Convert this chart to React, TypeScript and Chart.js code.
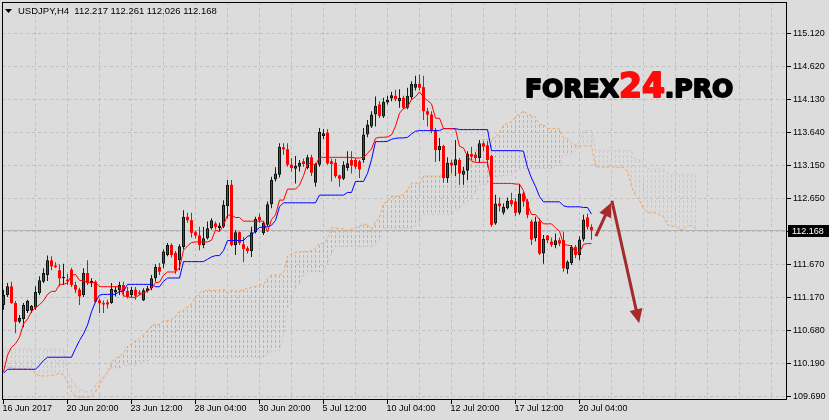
import React, { useEffect, useRef } from "react";
import { Chart, registerables } from "chart.js";

Chart.register(...registerables);

// ---------- data (USDJPY H4, one entry per bar) ----------
const symbol = "USDJPY,H4";

const opens = [111.05,111.20,111.33,111.08,110.80,110.84,110.96,110.97,111.01,111.23,
111.40,111.50,111.72,111.64,111.57,111.45,111.43,111.58,111.35,111.28,
111.20,111.53,111.38,111.40,111.12,111.08,111.09,111.08,111.24,111.27,
111.35,111.26,111.20,111.28,111.24,111.12,111.26,111.30,111.45,111.62,
111.67,111.80,111.95,111.83,111.72,111.92,112.37,112.32,112.14,112.09,
111.95,112.05,112.20,112.27,112.20,112.22,112.53,112.85,111.95,112.14,
111.96,111.90,111.86,112.14,112.37,112.13,112.25,112.56,112.93,113.00,
113.41,113.38,113.15,113.09,113.12,113.20,113.10,113.26,112.88,113.15,
113.58,113.63,113.20,113.18,112.99,112.94,113.10,113.22,113.22,113.20,
113.22,113.60,113.72,113.90,114.05,113.87,114.08,114.14,114.18,114.10,
114.15,114.00,114.16,114.30,114.36,114.31,113.95,113.90,113.66,113.37,
113.43,112.95,113.18,113.14,113.22,113.00,113.06,113.31,113.30,113.25,
113.47,113.44,113.28,112.27,112.57,112.43,112.50,112.62,112.60,112.43,
112.72,112.60,112.30,112.05,112.30,111.82,112.09,112.00,111.95,112.02,
112.02,111.59,111.68,111.92,111.80,112.03,112.36,112.217];

const highs = [111.28,111.38,111.40,111.11,110.90,111.08,111.13,111.05,111.33,111.48,
111.60,111.79,111.78,111.69,111.66,111.67,111.52,111.61,111.40,111.31,
111.60,111.72,111.45,111.42,111.15,111.12,111.13,111.38,111.33,111.40,
111.40,111.32,111.32,111.32,111.27,111.30,111.34,111.50,111.66,111.68,
111.88,111.98,111.97,111.86,111.96,112.47,112.43,112.43,112.16,112.22,
112.22,112.30,112.35,112.30,112.28,112.62,112.92,112.92,112.17,112.15,
112.07,111.93,112.22,112.37,112.42,112.30,112.60,112.97,113.11,113.47,
113.47,113.47,113.25,113.28,113.22,113.24,113.30,113.30,113.18,113.70,
113.68,113.68,113.24,113.24,113.00,113.20,113.35,113.35,113.25,113.22,
113.70,113.82,113.95,114.17,114.10,114.15,114.18,114.24,114.27,114.28,
114.18,114.30,114.40,114.48,114.50,114.48,114.00,113.95,113.70,113.55,
113.45,113.26,113.22,113.52,113.25,113.12,113.35,113.42,113.34,113.52,
113.50,113.50,113.30,112.70,112.66,112.57,112.66,112.73,112.65,112.86,
112.74,112.64,112.33,112.37,112.35,112.10,112.10,112.06,112.12,112.06,
112.15,111.72,111.95,111.95,112.08,112.40,112.42,112.261];

const lows = [110.98,111.17,111.07,110.63,110.78,110.72,110.93,110.93,110.98,111.20,
111.38,111.41,111.57,111.60,111.33,111.35,111.35,111.32,111.23,111.05,
111.17,111.35,111.32,111.08,110.93,110.93,111.00,111.07,111.18,111.20,
111.18,111.15,111.17,111.13,111.20,111.11,111.24,111.27,111.40,111.50,
111.60,111.78,111.76,111.52,111.57,111.88,112.28,112.06,112.05,111.87,
111.90,112.03,112.18,112.18,112.16,112.20,112.35,111.93,111.80,111.95,
111.69,111.82,111.77,112.12,112.28,112.10,112.22,112.50,112.90,112.96,
113.30,113.12,113.05,112.87,113.05,113.12,113.08,112.98,112.82,113.12,
113.53,113.15,112.90,112.95,112.82,112.92,113.06,113.02,113.08,112.95,
113.18,113.56,113.70,113.72,113.85,113.85,114.05,114.10,114.10,114.00,
113.98,113.98,114.12,114.26,114.26,113.82,113.72,113.62,113.19,113.20,
112.88,112.88,113.02,112.98,112.85,112.85,112.92,113.22,113.20,113.18,
113.35,113.12,112.22,112.25,112.45,112.40,112.48,112.52,112.38,112.40,
112.52,112.35,111.95,112.00,111.80,111.67,111.98,111.92,111.90,111.93,
111.55,111.52,111.65,111.75,111.72,112.00,112.18,112.026];

const closes = [111.20,111.33,111.08,110.80,110.86,111.05,111.11,111.04,111.25,111.42,
111.53,111.72,111.63,111.62,111.45,111.47,111.41,111.35,111.28,111.18,
111.53,111.38,111.41,111.10,111.08,111.06,111.06,111.29,111.28,111.35,
111.26,111.18,111.28,111.19,111.22,111.27,111.30,111.45,111.62,111.55,
111.85,111.95,111.80,111.57,111.93,112.37,112.32,112.13,112.09,111.95,
112.05,112.20,112.32,112.22,112.24,112.55,112.85,111.95,112.14,111.98,
111.89,111.86,112.14,112.34,112.32,112.28,112.56,112.92,113.02,113.42,
113.38,113.15,113.10,113.13,113.18,113.16,113.26,113.03,113.16,113.64,
113.62,113.17,113.16,112.98,112.94,113.15,113.17,113.14,113.12,113.08,
113.60,113.75,113.90,114.03,113.88,114.09,114.12,114.19,114.13,114.15,
114.00,114.18,114.36,114.36,114.30,113.95,113.90,113.67,113.37,113.43,
112.95,113.18,113.14,113.23,113.02,113.06,113.31,113.27,113.25,113.47,
113.42,113.22,112.25,112.57,112.53,112.52,112.61,112.56,112.43,112.72,
112.60,112.40,112.03,112.30,111.82,112.04,112.02,111.95,112.02,111.97,
111.60,111.70,111.92,111.80,112.03,112.33,112.22,112.168];

// Ichimoku: Tenkan-sen (red), Kijun-sen (blue)
const tenkan = [110.05,110.30,110.42,110.47,110.57,110.77,110.84,110.95,111.015,111.055,
111.115,111.21,111.255,111.255,111.36,111.36,111.385,111.495,111.51,111.42,
111.415,111.385,111.385,111.385,111.325,111.325,111.325,111.325,111.325,111.325,
111.19,111.175,111.165,111.165,111.20,111.235,111.255,111.305,111.385,111.395,
111.495,111.545,111.545,111.545,111.61,111.87,111.935,111.985,111.995,111.995,
111.995,111.995,112.02,112.17,112.15,112.245,112.395,112.395,112.36,112.36,
112.305,112.305,112.305,112.305,112.305,112.305,112.145,112.33,112.40,112.62,
112.62,112.785,112.785,112.785,112.845,112.985,113.17,113.17,113.145,113.26,
113.26,113.26,113.26,113.26,113.26,113.26,113.26,113.26,113.25,113.25,
113.26,113.32,113.385,113.545,113.56,113.56,113.565,113.595,113.725,113.92,
113.99,114.01,114.125,114.165,114.24,114.16,114.11,114.06,113.845,113.845,
113.69,113.69,113.69,113.68,113.425,113.40,113.275,113.20,113.185,113.185,
113.185,113.185,112.87,112.87,112.87,112.87,112.87,112.87,112.86,112.86,
112.76,112.555,112.405,112.405,112.33,112.265,112.265,112.265,112.205,112.155,
111.96,111.945,111.935,111.835,111.835,111.96,111.97,111.97];

const kijun = [110.03,110.09,110.09,110.09,110.09,110.09,110.09,110.09,110.09,110.15,
110.22,110.27,110.27,110.27,110.27,110.27,110.27,110.27,110.40,110.52,
110.62,110.75,110.95,111.10,111.20,111.21,111.21,111.21,111.21,111.255,
111.255,111.36,111.36,111.36,111.36,111.36,111.36,111.355,111.325,111.325,
111.405,111.455,111.455,111.455,111.455,111.70,111.70,111.70,111.70,111.70,
111.70,111.735,111.77,111.79,111.79,111.865,112.015,112.015,112.015,112.015,
112.015,112.08,112.095,112.16,112.21,112.22,112.22,112.245,112.315,112.52,
112.58,112.58,112.58,112.58,112.58,112.58,112.58,112.58,112.58,112.695,
112.695,112.695,112.695,112.695,112.695,112.695,112.735,112.735,112.90,112.90,
112.90,113.02,113.225,113.495,113.495,113.495,113.50,113.53,113.545,113.55,
113.55,113.56,113.61,113.65,113.66,113.66,113.66,113.66,113.66,113.66,
113.69,113.69,113.69,113.69,113.675,113.675,113.675,113.675,113.675,113.675,
113.675,113.675,113.36,113.36,113.36,113.36,113.36,113.36,113.36,113.36,
113.35,113.11,112.95,112.825,112.675,112.595,112.595,112.595,112.595,112.595,
112.535,112.52,112.52,112.52,112.52,112.51,112.51,112.41];

// Senkou Span A (sandy brown) and B (thistle), plotted 26 bars ahead
const spanA = [110.13,110.12,110.11,110.10,110.10,110.10,110.09,110.08,110.03,109.99,
109.99,109.99,110.00,110.01,110.03,110.01,109.90,109.76,109.68,109.67,
109.67,109.67,109.69,109.75,109.86,109.96,110.04,110.195,110.255,110.28,
110.33,110.43,110.465,110.52,110.55,110.60,110.67,110.74,110.76,110.76,
110.815,110.815,110.83,110.88,110.955,110.97,111.02,111.07,111.17,111.24,
111.26,111.27,111.27,111.27,111.27,111.29,111.22,111.27,111.26,111.26,
111.28,111.30,111.31,111.33,111.355,111.36,111.45,111.50,111.50,111.50,
111.53,111.785,111.82,111.84,111.85,111.85,111.85,111.865,111.895,111.98,
111.97,112.055,112.205,112.205,112.19,112.19,112.16,112.19,112.20,112.23,
112.26,112.26,112.18,112.29,112.36,112.57,112.60,112.68,112.68,112.68,
112.71,112.78,112.875,112.875,112.86,112.98,112.98,112.98,112.98,112.98,
112.98,112.98,113.00,113.00,113.075,113.075,113.08,113.17,113.305,113.52,
113.53,113.53,113.53,113.56,113.635,113.735,113.77,113.785,113.87,113.91,
113.95,113.91,113.885,113.86,113.75,113.75,113.69,113.69,113.69,113.685,
113.55,113.54,113.475,113.44,113.43,113.43,113.43,113.43,113.115,113.115,
113.115,113.115,113.115,113.115,113.11,113.11,113.055,112.83,112.68,112.615,
112.50,112.43,112.43,112.43,112.40,112.375,112.25,112.23,112.23,112.18,
112.18,112.235,112.24,112.19];

const spanB = [110.39,110.39,110.39,110.39,110.39,110.39,110.39,110.39,110.39,110.39,
110.39,110.39,110.39,110.39,110.39,110.39,110.08,109.95,109.86,109.80,
109.76,109.75,109.78,109.86,109.92,109.98,110.05,110.11,110.11,110.11,
110.15,110.15,110.15,110.15,110.21,110.21,110.21,110.27,110.27,110.27,
110.27,110.27,110.27,110.27,110.27,110.27,110.27,110.27,110.27,110.27,
110.27,110.27,110.27,110.27,110.27,110.27,110.27,110.27,110.27,110.27,
110.27,110.27,110.27,110.27,110.27,110.27,110.315,110.365,110.365,110.365,
110.60,111.005,111.105,111.305,111.375,111.485,111.55,111.55,111.55,111.55,
111.55,111.67,111.82,111.925,111.925,111.925,111.925,111.925,111.925,111.925,
111.925,111.925,111.925,111.95,112.02,112.20,112.20,112.20,112.20,112.20,
112.20,112.20,112.20,112.235,112.29,112.405,112.405,112.405,112.405,112.405,
112.405,112.405,112.405,112.47,112.485,112.55,112.60,112.67,112.735,112.845,
112.845,112.87,112.935,112.965,112.98,112.985,112.985,112.995,113.045,113.085,
113.095,113.095,113.095,113.095,113.095,113.095,113.095,113.095,113.135,113.135,
113.30,113.30,113.30,113.36,113.50,113.66,113.66,113.66,113.36,113.36,
113.36,113.36,113.36,113.36,113.36,113.36,113.36,113.36,113.225,113.225,
113.15,113.085,113.085,113.085,113.085,113.085,113.025,113.01,113.01,113.01,
113.01,113.01,113.01,113.01];

// axis ticks
const yTicks = [115.12, 114.62, 114.13, 113.64, 113.15, 112.65, 112.16, 111.67, 111.17, 110.68, 110.19, 109.69];
const xTickBars = [0, 16, 32, 48, 64, 80, 96, 112, 128, 144];
const xTickLabels = ["16 Jun 2017", "20 Jun 20:00", "23 Jun 12:00", "28 Jun 04:00", "30 Jun 20:00",
  "5 Jul 12:00", "10 Jul 04:00", "12 Jul 20:00", "17 Jul 12:00", "20 Jul 04:00"];

// forecast arrows, in (bar index, price)
const arrows = [
  { from: [148.1, 112.08], to: [151.9, 112.58] },
  { from: [152.1, 112.61], to: [158.9, 110.78] },
];

// ---------- layout / style ----------
const W = 829, H = 420;
const X_MIN = -0.375, X_MAX = 195.625;
const Y_MIN = 109.6451, Y_MAX = 115.5837;
const BG = "#dcdcdc";
const GRID = "#c0c0c0";
const FONT = '9px "Liberation Sans", Arial, sans-serif';
const TITLE_FONT = '9.5px "Liberation Sans", Arial, sans-serif';

function drawArrow(ctx: CanvasRenderingContext2D, x1: number, y1: number, x2: number, y2: number) {
  const ang = Math.atan2(y2 - y1, x2 - x1);
  const hl = 14, hw = 6.5;
  const bx = x2 - hl * Math.cos(ang), by = y2 - hl * Math.sin(ang);
  ctx.beginPath();
  ctx.moveTo(x1, y1);
  ctx.lineTo(bx + 2 * Math.cos(ang), by + 2 * Math.sin(ang));
  ctx.stroke();
  ctx.beginPath();
  ctx.moveTo(x2, y2);
  ctx.lineTo(bx + hw * Math.sin(ang), by - hw * Math.cos(ang));
  ctx.lineTo(bx - hw * Math.sin(ang), by + hw * Math.cos(ang));
  ctx.closePath();
  ctx.fill();
}

const mtPlugin = {
  id: "mt4look",
  beforeDraw(chart: any) {
    const { ctx, chartArea: a, scales } = chart;
    const x = scales.x, y = scales.y;
    ctx.save();
    ctx.fillStyle = BG;
    ctx.fillRect(0, 0, chart.width, chart.height);
    ctx.strokeStyle = GRID;
    ctx.lineWidth = 1;
    ctx.setLineDash([3, 3]);
    ctx.beginPath();
    for (const v of yTicks) {
      const py = Math.round(y.getPixelForValue(v)) + 0.5;
      ctx.moveTo(a.left, py);
      ctx.lineTo(a.right, py);
    }
    for (let i = 8; i < X_MAX; i += 8) {
      const px = Math.floor(x.getPixelForValue(i)) + 0.5;
      ctx.moveTo(px, a.top);
      ctx.lineTo(px, a.bottom);
    }
    ctx.stroke();
    ctx.setLineDash([]);
    ctx.restore();
  },
  beforeDatasetsDraw(chart: any) {
    const { ctx, chartArea: a, scales } = chart;
    const lp = Math.round(scales.y.getPixelForValue(closes[closes.length - 1])) + 0.5;
    ctx.save();
    ctx.strokeStyle = "#b4b4b4";
    ctx.lineWidth = 1;
    ctx.beginPath();
    ctx.moveTo(a.left, lp);
    ctx.lineTo(a.right, lp);
    ctx.stroke();
    ctx.restore();
  },
  afterDraw(chart: any) {
    const { ctx, chartArea: a, scales } = chart;
    const x = scales.x, y = scales.y;
    const last = closes.length - 1;
    ctx.save();
    // frame
    ctx.strokeStyle = "#000";
    ctx.lineWidth = 1;
    ctx.strokeRect(a.left + 0.5, a.top + 0.5, a.right - a.left, a.bottom - a.top);

    ctx.font = FONT;
    ctx.fillStyle = "#000";
    // price axis
    ctx.textAlign = "left";
    ctx.textBaseline = "middle";
    ctx.beginPath();
    for (const v of yTicks) {
      const py = Math.round(y.getPixelForValue(v)) + 0.5;
      ctx.moveTo(a.right + 1, py);
      ctx.lineTo(a.right + 5, py);
      if (Math.abs(v - closes[last]) > 0.05) ctx.fillText(v.toFixed(3), a.right + 7, py + 0.5);
    }
    ctx.stroke();
    // last price box
    const lp = Math.round(y.getPixelForValue(closes[last]));
    ctx.fillStyle = "#000";
    ctx.fillRect(a.right + 2, lp - 5, W - a.right - 2, 12);
    ctx.fillStyle = "#fff";
    ctx.fillText(closes[last].toFixed(3), a.right + 6, lp + 1.5);

    // time axis
    ctx.fillStyle = "#000";
    ctx.beginPath();
    xTickBars.forEach((b, k) => {
      const px = Math.floor(x.getPixelForValue(b)) + 0.5;
      ctx.moveTo(px, a.bottom + 1);
      ctx.lineTo(px, a.bottom + 5);
      ctx.fillText(xTickLabels[k], px - 1, a.bottom + 9.5);
    });
    ctx.stroke();

    // title
    ctx.beginPath();
    ctx.moveTo(5, 9);
    ctx.lineTo(12, 9);
    ctx.lineTo(8.5, 13);
    ctx.closePath();
    ctx.fill();
    ctx.font = TITLE_FONT;
    const title = `${symbol}  ${opens[last].toFixed(3)} ${highs[last].toFixed(3)} ${lows[last].toFixed(3)} ${closes[last].toFixed(3)}`;
    ctx.fillText(title, 18, 11.5);

    // logo
    ctx.textBaseline = "alphabetic";
    let lx = 525;
    const by = 96.5;
    const part = (t: string, size: number, color: string) => {
      ctx.font = `bold ${size}px "DejaVu Sans", sans-serif`;
      ctx.fillStyle = color;
      ctx.strokeStyle = color;
      ctx.lineWidth = 1.8;
      ctx.lineJoin = "round";
      ctx.fillText(t, lx, by);
      ctx.strokeText(t, lx, by);
      lx += ctx.measureText(t).width;
    };
    part("FOREX", 25, "#000");
    part("24", 33, "#ff0a0a");
    part(".PRO", 25, "#000");

    // arrows
    ctx.strokeStyle = "#a52a2a";
    ctx.fillStyle = "#a52a2a";
    ctx.lineWidth = 3;
    ctx.lineJoin = "miter";
    for (const ar of arrows) {
      drawArrow(ctx,
        x.getPixelForValue(ar.from[0]), y.getPixelForValue(ar.from[1]),
        x.getPixelForValue(ar.to[0]), y.getPixelForValue(ar.to[1]));
    }
    ctx.restore();
  },
};

export default function App() {
  const ref = useRef<HTMLCanvasElement>(null);
  useEffect(() => {
    const canvas = ref.current!;
    const ctx = canvas.getContext("2d")!;
    const mkPattern = (color: string) => {
      const c = document.createElement("canvas");
      c.width = 1;
      c.height = 5;
      const g = c.getContext("2d")!;
      g.fillStyle = color;
      g.fillRect(0, 0, 1, 3);
      return ctx.createPattern(c, "repeat")!;
    };
    const orangeHatch = mkPattern("#f4a460");
    const thistleHatch = mkPattern("#d8bfd8");
    const pts = (arr: number[]) => arr.map((v, i) => ({ x: i, y: v }));
    const bull = closes.map((c, i) => c >= opens[i]);

    const chart = new Chart(ctx, {
      type: "bar",
      data: {
        datasets: [
          {
            type: "line", label: "Tenkan-sen", data: pts(tenkan),
            borderColor: "#ff0000", borderWidth: 1, pointRadius: 0, tension: 0, fill: false, order: 1,
          } as any,
          {
            type: "line", label: "Kijun-sen", data: pts(kijun),
            borderColor: "#0000ff", borderWidth: 1, pointRadius: 0, tension: 0, fill: false, order: 2,
          } as any,
          {
            type: "bar", label: "Body",
            data: opens.map((o, i) => ({ x: i, y: [Math.min(o, closes[i]), Math.max(o, closes[i])] })),
            backgroundColor: bull.map((b) => (b ? "#2f5a4c" : "#ff0000")),
            borderColor: bull.map((b) => (b ? "#0c1410" : "#ff0000")),
            borderWidth: bull.map((b) => (b ? 1 : 0)),
            borderSkipped: false, barThickness: 3, grouped: false, minBarLength: 1, inflateAmount: 0, order: 3,
          } as any,
          {
            type: "bar", label: "Wick",
            data: lows.map((l, i) => ({ x: i, y: [l, highs[i]] })),
            backgroundColor: bull.map((b) => (b ? "#142019" : "#ff0000")),
            borderWidth: 0, barThickness: 1, grouped: false, inflateAmount: 0, order: 4,
          } as any,
          {
            type: "line", label: "Senkou Span A", data: pts(spanA),
            borderColor: "#f4a460", borderWidth: 1, borderDash: [3, 2], pointRadius: 0, tension: 0, fill: false, order: 5,
          } as any,
          {
            type: "line", label: "Senkou Span B", data: pts(spanB),
            borderColor: "#d8bfd8", borderWidth: 1, borderDash: [3, 2], pointRadius: 0, tension: 0, fill: false, order: 6,
          } as any,
          {
            type: "bar", label: "Kumo",
            data: spanA.map((v, i) => ({ x: i, y: [Math.min(v, spanB[i]), Math.max(v, spanB[i])] })),
            backgroundColor: spanA.map((v, i) => (v >= spanB[i] ? orangeHatch : thistleHatch)),
            borderWidth: 0, barThickness: 1, grouped: false, inflateAmount: 0, order: 7,
          } as any,
        ],
      },
      options: {
        responsive: false,
        animation: false,
        devicePixelRatio: 1,
        events: [],
        layout: { padding: { left: 2, top: 2, right: 43, bottom: 21 } },
        plugins: { legend: { display: false }, tooltip: { enabled: false } },
        scales: {
          x: { type: "linear", min: X_MIN, max: X_MAX, display: false, offset: false },
          y: { type: "linear", min: Y_MIN, max: Y_MAX, display: false },
        },
      },
      plugins: [mtPlugin],
    } as any);
    return () => chart.destroy();
  }, []);

  return (
    <div style={{ position: "fixed", left: 0, top: 0, width: W, height: H, background: BG }}>
      <canvas ref={ref} width={W} height={H} style={{ display: "block", width: W, height: H }} />
    </div>
  );
}
